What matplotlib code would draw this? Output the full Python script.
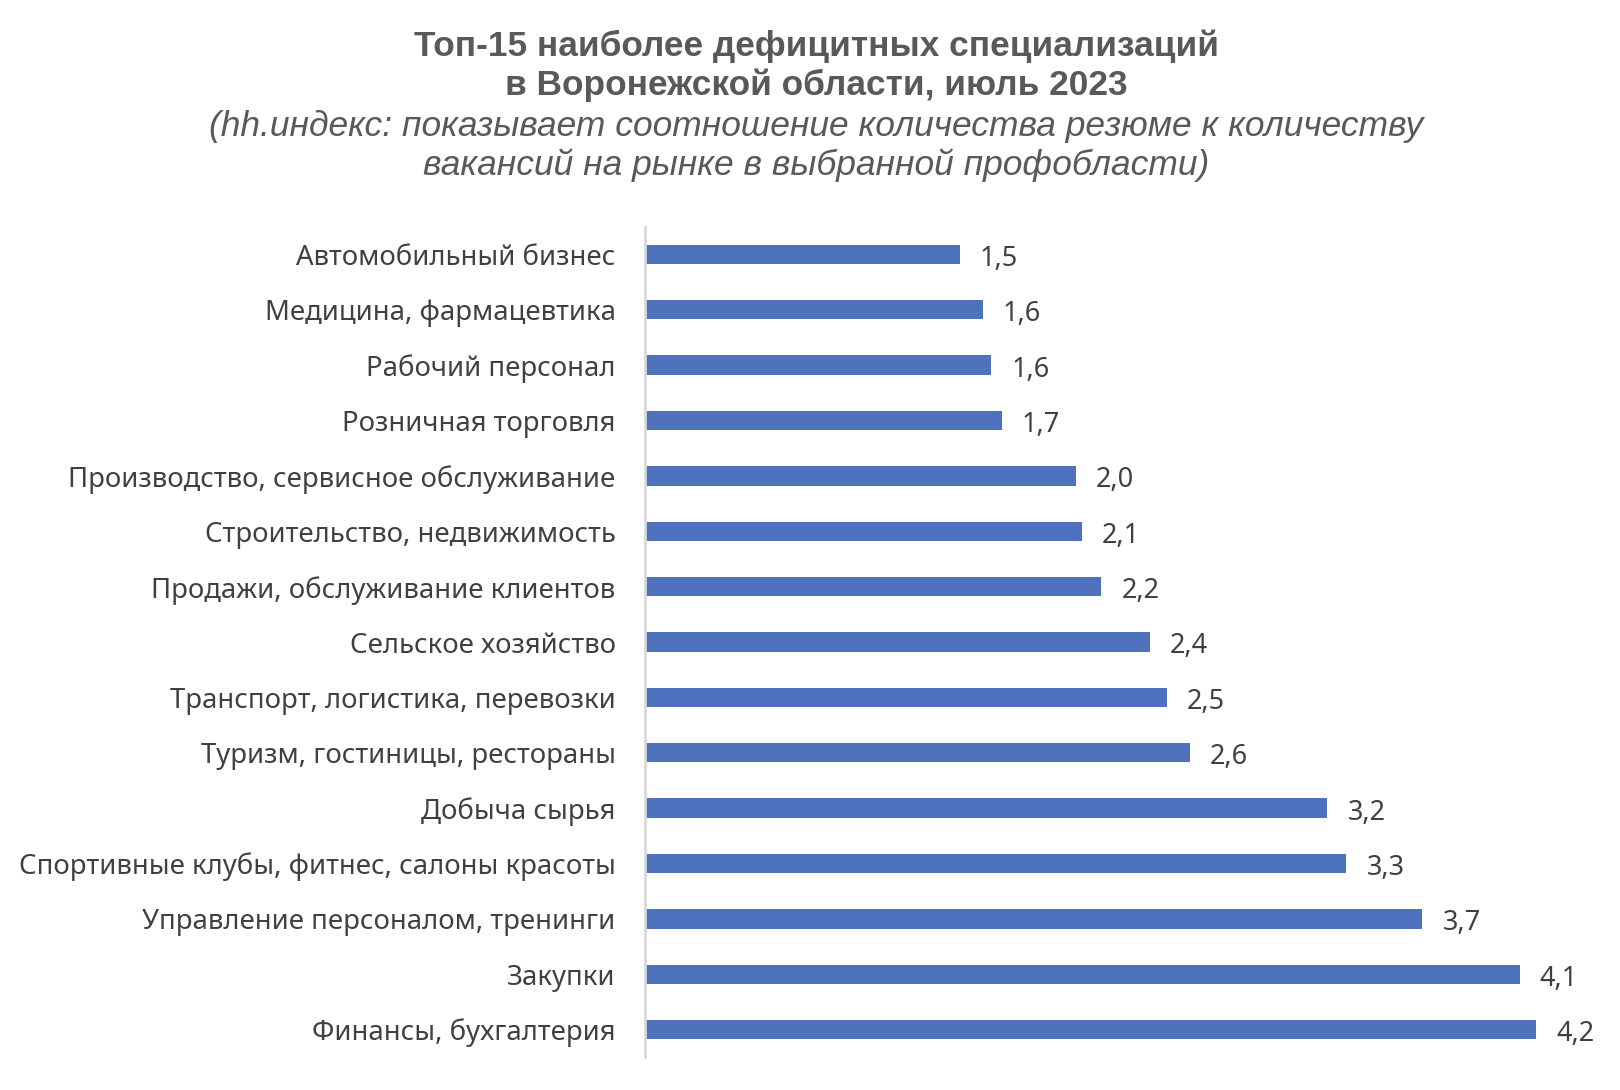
import matplotlib.pyplot as plt
import numpy as np

categories = [
    'Автомобильный бизнес',
    'Медицина, фармацевтика',
    'Рабочий персонал',
    'Розничная торговля',
    'Производство, сервисное обслуживание',
    'Строительство, недвижимость',
    'Продажи, обслуживание клиентов',
    'Сельское хозяйство',
    'Транспорт, логистика, перевозки',
    'Туризм, гостиницы, рестораны',
    'Добыча сырья',
    'Спортивные клубы, фитнес, салоны красоты',
    'Управление персоналом, тренинги',
    'Закупки',
    'Финансы, бухгалтерия',
]
values = [1.49, 1.60, 1.64, 1.69, 2.04, 2.07, 2.16, 2.39, 2.47, 2.58,
          3.23, 3.32, 3.68, 4.14, 4.22]

title = 'Топ-15 наиболее дефицитных специализаций\nв Воронежской области, июль 2023'
subtitle = '(hh.индекс: показывает соотношение количества резюме к количеству\nвакансий на рынке в выбранной профобласти)'

fig = plt.figure(figsize=(16.2, 10.9), dpi=100)
ax = fig.add_axes([0.398, 0.030, 0.60, 0.762])

y = np.arange(len(categories))
ax.barh(y, values, height=0.35, color='#4e72be')
ax.set_ylim(len(categories) - 0.5, -0.5)
ax.set_xlim(0, 4.6)
ax.set_yticks(y)
ax.set_yticklabels(categories, fontsize=19.8, color='#404040', family='Noto Sans')
ax.tick_params(axis='y', length=0, pad=21)
ax.set_xticks([])
for s in ['top', 'right', 'bottom']:
    ax.spines[s].set_visible(False)
ax.spines['left'].set_color('#d9d9d9')
ax.spines['left'].set_linewidth(2)

for yi, v in zip(y, values):
    ax.text(v + 0.095, yi + 0.08, f'{v:.1f}'.replace('.', ','), va='center', ha='left',
            fontsize=19.5, color='#404040', family='Noto Sans')

fig.text(0.504, 0.940, title, ha='center', va='center', fontsize=25.4, fontweight='bold',
         color='#595959', family='Liberation Sans', linespacing=1.2)
fig.text(0.504, 0.866, subtitle, ha='center', va='center', fontsize=25.5, style='italic',
         color='#595959', family='Liberation Sans', linespacing=1.2)

fig.savefig('out.png', dpi=100, facecolor='white')
